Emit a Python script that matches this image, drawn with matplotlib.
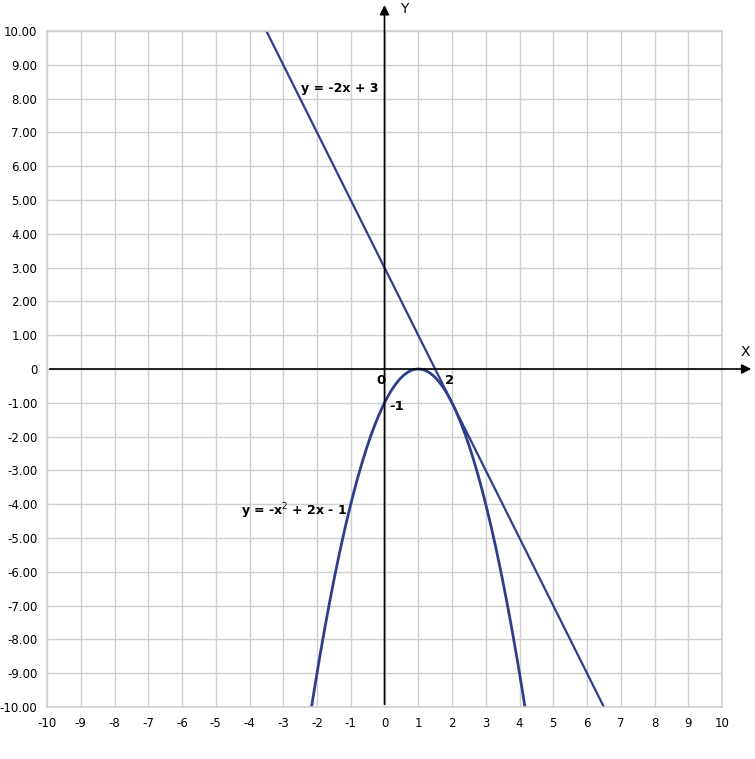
import numpy as np
import matplotlib.pyplot as plt

# data
x_ticks = list(range(-10, 11))
y_ticks = list(range(-10, 11))
x_line = np.array([-3.5, 6.5])
y_line = -2 * x_line + 3
x_par = np.linspace(-2.2, 4.2, 400)
y_par = -x_par**2 + 2 * x_par - 1

blue = '#2c3e8c'

fig = plt.figure(figsize=(7.55, 7.59), dpi=100)
ax = fig.add_axes([47/755, 52/759, 675/755, 676/759])

ax.plot(x_line, y_line, color=blue, lw=1.6)
ax.plot(x_par, y_par, color=blue, lw=2.0)

ax.set_xlim(-10, 10)
ax.set_ylim(-10, 10)
ax.set_xticks(x_ticks)
ax.set_yticks(y_ticks)
ax.set_xticklabels([str(v) for v in x_ticks])
ax.set_yticklabels(['0' if v == 0 else f'{v:.2f}' for v in y_ticks])
ax.tick_params(length=0, labelsize=8.5, pad=7)
ax.grid(True, color='#cfcfcf', lw=1.0)
ax.set_axisbelow(True)
for s in ax.spines.values():
    s.set_color('#cfcfcf')
    s.set_linewidth(1.2)

# axes with arrows
ax.annotate('', xy=(10.95, 0), xytext=(-10, 0), annotation_clip=False,
            arrowprops=dict(arrowstyle='-|>', color='black', lw=1.2, mutation_scale=14))
ax.annotate('', xy=(0, 10.85), xytext=(0, -10), annotation_clip=False,
            arrowprops=dict(arrowstyle='-|>', color='black', lw=1.2, mutation_scale=14))
ax.text(0.45, 10.65, 'Y', fontsize=10, ha='left', va='center', clip_on=False)
ax.text(10.7, 0.5, 'X', fontsize=10, ha='center', va='center', clip_on=False)

# labels
ax.text(-2.47, 8.31, 'y = -2x + 3', fontsize=9, fontweight='bold', va='center')
ax.text(-4.25, -4.2, 'y = -x$^2$ + 2x - 1', fontsize=9, fontweight='bold', va='center')
ax.text(-0.1, -0.33, '0', fontsize=9.5, fontweight='bold', ha='center', va='center')
ax.text(1.94, -0.33, '2', fontsize=9.5, fontweight='bold', ha='center', va='center')
ax.text(0.37, -1.12, '-1', fontsize=9.5, fontweight='bold', ha='center', va='center')

fig.savefig('out.png', dpi=100)
